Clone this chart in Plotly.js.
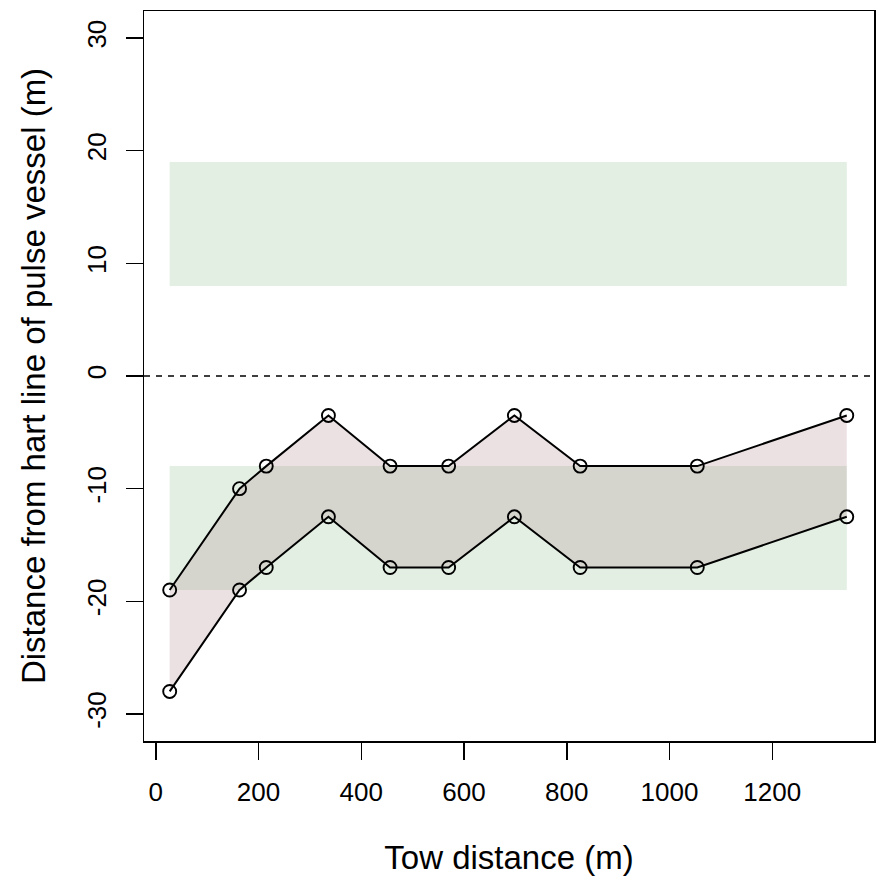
<!DOCTYPE html>
<html>
<head>
<meta charset="utf-8">
<script src="https://cdn.plot.ly/plotly-3.0.1.min.js"></script>
<style>html,body{margin:0;padding:0;background:#fff;}#chart{width:886px;height:886px;}</style>
</head>
<body>
<div id="chart"></div>
<script>
// Data
const towDistance = [27, 163, 215, 336, 456, 570, 698, 826, 1054, 1345];
const upperEdge = [-19, -10, -8, -3.5, -8, -8, -3.5, -8, -8, -3.5];
const lowerEdge = [-28, -19, -17, -12.5, -17, -17, -12.5, -17, -17, -12.5];
const bandX = [27, 1345];
const topBand = [8, 19];
const bottomBand = [-19, -8];
const refLine = 0;
const xTicks = [0, 200, 400, 600, 800, 1000, 1200];
const yTicks = [-30, -20, -10, 0, 10, 20, 30];

function bandTrace(xr, yr) {
  return {
    x: [xr[0], xr[1], xr[1], xr[0], xr[0]],
    y: [yr[0], yr[0], yr[1], yr[1], yr[0]],
    mode: 'lines', fill: 'toself', fillcolor: '#e3efe3',
    line: {width: 0, color: 'rgba(0,0,0,0)'}, hoverinfo: 'skip', showlegend: false
  };
}

const markerStyle = {symbol: 'circle-open', size: 13, color: '#000', line: {width: 1.9, color: '#000'}};

const traces = [
  bandTrace(bandX, topBand),
  bandTrace(bandX, bottomBand),
  {x: towDistance, y: lowerEdge, mode: 'lines+markers', line: {color: '#000', width: 2},
   marker: markerStyle, showlegend: false},
  {x: towDistance, y: upperEdge, mode: 'lines+markers', line: {color: '#000', width: 2},
   marker: markerStyle, fill: 'tonexty', fillcolor: 'rgba(175,135,140,0.25)', showlegend: false}
];

const fontFam = 'Liberation Sans, Arial, sans-serif';
const layout = {
  width: 886, height: 886,
  margin: {l: 144, r: 12, t: 11, b: 145},
  paper_bgcolor: '#fff', plot_bgcolor: '#fff',
  font: {family: fontFam, color: '#000'},
  showlegend: false,
  xaxis: {
    range: [-23, 1398], tickvals: xTicks, ticktext: xTicks.map(String),
    showgrid: false, zeroline: false, showline: true, mirror: true,
    linecolor: '#000', linewidth: 1.5, ticks: 'outside', ticklen: 17, tickwidth: 1.5, tickcolor: '#000',
    ticklabelstandoff: 10,
    tickfont: {size: 26, family: fontFam, color: '#000'},
    title: {text: 'Tow distance (m)', font: {size: 33, family: fontFam, color: '#000'}, standoff: 40}
  },
  yaxis: {
    range: [-32.4, 32.4], tickvals: yTicks, ticktext: yTicks.map(String), tickangle: -90,
    showgrid: false, zeroline: false, showline: true, mirror: true,
    linecolor: '#000', linewidth: 1.5, ticks: 'outside', ticklen: 17, tickwidth: 1.5, tickcolor: '#000',
    ticklabelstandoff: 9,
    tickfont: {size: 26, family: fontFam, color: '#000'},
    title: {text: 'Distance from hart line of pulse vessel (m)', font: {size: 33, family: fontFam, color: '#000'}, standoff: 26}
  },
  shapes: [{
    type: 'line', xref: 'paper', x0: 0, x1: 1, yref: 'y', y0: refLine, y1: refLine,
    line: {color: '#000', width: 1.6, dash: '6px,6px'}, layer: 'above'
  }]
};

Plotly.newPlot('chart', traces, layout, {displayModeBar: false, staticPlot: true});
</script>
</body>
</html>
